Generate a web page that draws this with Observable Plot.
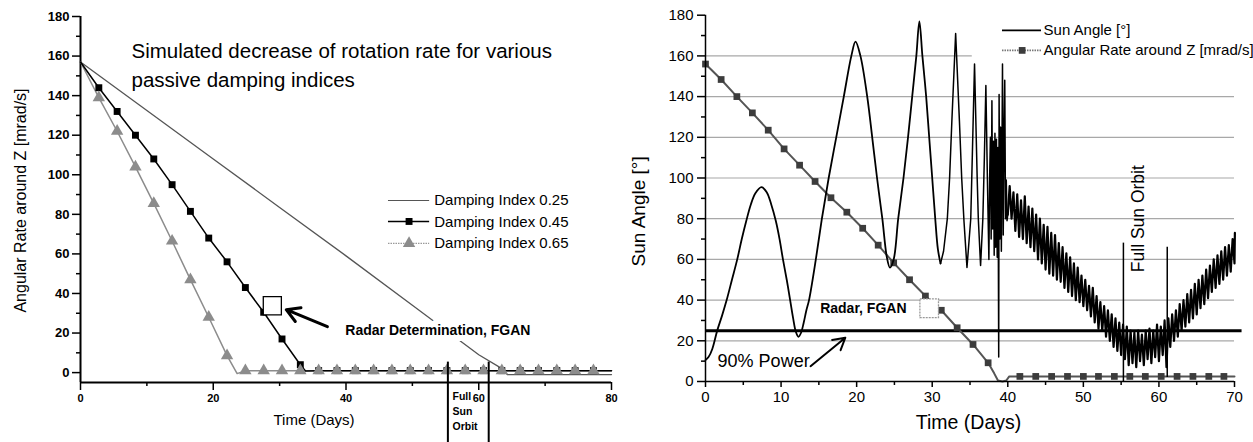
<!DOCTYPE html>
<html><head><meta charset="utf-8">
<script src="https://cdn.jsdelivr.net/npm/d3@7"></script>
<script src="https://cdn.jsdelivr.net/npm/@observablehq/plot@0.6"></script>
<style>
body{margin:0;background:#fff;}
#wrap{position:relative;width:1253px;height:442px;overflow:hidden;display:flex;background:#fff;}
#wrap svg{flex:none;max-width:none;overflow:visible;}
</style></head><body><div id="wrap"></div>
<script>
// ================= LEFT PANEL DATA =================
const leftTitle = "Simulated decrease of rotation rate for various\npassive damping indices";
const leftYLabel = "Angular Rate around Z [mrad/s]";
const leftXLabel = "Time (Days)";
const leftYTicks = [0, 20, 40, 60, 80, 100, 120, 140, 160, 180];
const leftYMinor = [10, 30, 50, 70, 90, 110, 130, 150, 170];
const leftXTicks = [0, 20, 40, 60, 80];
const leftXMinor = [10, 30, 50, 70];
const dampLabels = ["Damping Index 0.25", "Damping Index 0.45", "Damping Index 0.65"];

const damp025Days = [0, 10, 20, 30, 40, 50, 55, 60, 63.5, 64.3, 80];
const damp025Rate = [157, 132.5, 108, 83.5, 59, 34, 21.5, 9, 2, -1, -1];

const damp045Days = [0, 2.76, 5.52, 8.28, 11.04, 13.8, 16.56, 19.32, 22.08, 24.84, 27.6, 30.36, 33.12, 33.9,
  35.88, 38.64, 41.4, 44.16, 46.92, 49.68, 52.44, 55.2, 57.96, 60.72, 63.48, 66.24, 69.0, 71.76, 74.52, 77.28, 80];
const damp045Rate = [157, 144, 132, 120, 108, 95, 81.5, 68, 56, 43, 30.5, 17, 4, 0.8,
  1, 1, 1, 1, 1, 1, 1, 1, 1, 1, 1, 1, 1, 1, 1, 1, 1];
const damp045Unmarked = [0, 33.9, 80];

const damp065Days = [0, 2.76, 5.52, 8.28, 11.04, 13.8, 16.56, 19.32, 22.08, 23.6, 24.84, 27.6, 30.36, 33.12,
  35.88, 38.64, 41.4, 44.16, 46.92, 49.68, 52.44, 55.2, 57.96, 60.72, 63.48, 66.24, 69.0, 71.76, 74.52, 77.28, 80];
const damp065Rate = [157, 139, 122, 104, 85.5, 66.5, 47, 28, 8.6, -0.5, 1, 1, 1, 1,
  1, 1, 1, 1, 1, 1, 1, 1, 1, 1, 1, 1, 1, 1, 1, 1, 1];
const damp065Unmarked = [0, 23.6, 80];

const fullSunLeftDays = [55.35, 61.5];
const radarLeftText = "Radar Determination, FGAN";
const fullSunLeftText = "Full\nSun\nOrbit";

// ================= RIGHT PANEL DATA =================
const rightYLabel = "Sun Angle [°]";
const rightXLabel = "Time (Days)";
const rightYTicks = [0, 20, 40, 60, 80, 100, 120, 140, 160, 180];
const rightYMinor = [10, 30, 50, 70, 90, 110, 130, 150, 170];
const rightXTicks = [0, 10, 20, 30, 40, 50, 60, 70];
const rightXMinor = [5, 15, 25, 35, 45, 55, 65];
const rightGrid = [20, 40, 60, 80, 100, 120, 140, 160];
const seriesLabels = ["Sun Angle [°]", "Angular Rate around Z [mrad/s]"];
const powerLimit = [25];
const fullSunRightDays = [55.3, 61.1];

// Sun angle [day, degrees]
const sunSmooth = [[0,10.5],[0.4,12],[0.9,16],[1.55,25],[2.2,32.5],[2.8,40],[3.5,50],[4.2,60],[4.8,70],[5.4,79],
  [6.0,87],[6.6,92.5],[7.4,95.5],[8.1,93],[8.7,87],[9.3,79],[9.8,70],[10.25,60],[10.75,50],[11.2,40],[11.6,31],
  [11.95,24.5],[12.3,22],[12.65,24],[13.0,29],[13.35,35],[13.7,40],[14.6,60],[15.4,80],[16.3,100],[17.3,120],
  [18.3,140],[19.3,160],[19.85,167],[20.5,160],[21.4,140],[22.06,120],[22.7,100],[23.4,80],[24.0,61],[24.4,56],
  [24.9,60],[25.5,80],[26.2,100],[26.8,120],[27.35,140],[27.9,160],[28.3,177],[28.7,160],[29.2,140],[29.6,120],
  [30.0,100],[30.4,80],[30.75,65],[31.1,58]];
const sunFast = [[31.1,58],[31.5,64],[32.0,80],[32.3,100],[32.6,128],[33.1,171],[33.6,128],[33.9,100],[34.2,79],
  [34.6,56],[35.1,80],[35.3,110],[35.6,156],[35.95,100],[36.1,80],[36.4,57],[36.7,80],[36.9,110],[37.1,145.5],
  [37.3,100],[37.5,60],[37.6,100],[37.7,120],[37.8,70],[37.9,138],[38.0,75],[38.1,118],[38.2,62],[38.3,122],
  [38.4,66],[38.5,119],[38.6,61],[38.7,115],[38.8,12],[38.85,141],[38.95,70],[39.05,125],[39.15,64],[39.3,156],
  [39.4,72],[39.5,120],[39.6,148],[39.7,80],[39.8,99],[39.9,79],[40,82]];
const sunNoisy = [[40,82],[40.25,96],[40.5,80],[40.75,93],[41,74],[41.25,92],[41.5,71],[41.75,89],[42,70],[42.25,91],
  [42.5,68],[42.75,86],[43,66],[43.25,85],[43.5,64],[43.75,82],[44,60],[44.25,80],[44.5,58],[44.75,77],[45,55],
  [45.25,76],[45.5,53],[45.75,73],[46,52],[46.25,72],[46.5,50],[46.75,68],[47,49],[47.25,66],[47.5,46],[47.75,63],
  [48,44],[48.25,61],[48.5,42],[48.75,58],[49,40],[49.25,56],[49.5,39],[49.75,52],[50,37],[50.25,50],[50.5,35],
  [50.75,47],[51,32],[51.25,46],[51.5,29],[51.75,42],[52,26],[52.25,39],[52.5,25],[52.75,37],[53,22],[53.25,35],
  [53.5,20],[53.75,33],[54,17],[54.25,31],[54.5,15],[54.75,29],[55,13],[55.25,28],[55.5,11],[55.75,27],[56,8],
  [56.25,25],[56.5,9],[56.75,24],[57,7],[57.25,25],[57.5,10],[57.75,23],[58,8],[58.25,25],[58.5,11],[58.75,26],
  [59,9],[59.25,25],[59.5,12],[59.75,28],[60,10],[60.25,27],[60.5,13],[60.75,30],[61,7],[61.25,31],[61.5,17],
  [61.75,33],[62,20],[62.25,35],[62.5,22],[62.75,38],[63,25],[63.25,40],[63.5,27],[63.75,43],[64,29],[64.25,45],
  [64.5,31],[64.75,48],[65,33],[65.25,50],[65.5,36],[65.75,52],[66,38],[66.25,55],[66.5,41],[66.75,57],[67,44],
  [67.25,60],[67.5,46],[67.75,62],[68,48],[68.25,64],[68.5,50],[68.75,66],[69,52],[69.25,67],[69.5,54],[69.75,70],
  [70,58],[70.05,73]];

// Angular rate around Z (right panel)
const rateDays = [0, 2.07, 4.15, 6.2, 8.3, 10.4, 12.45, 14.5, 16.6, 18.7, 20.8, 22.85, 24.9, 27.0, 29.1, 31.2, 33.3,
  35.4, 37.4, 38.2, 38.7, 39.3, 39.8, 40.2, 41.6, 43.7, 45.8, 47.9, 50.0, 52.0, 54.1, 56.15, 58.2, 60.3, 62.4,
  64.5, 66.6, 68.6, 70];
const rateValues = [156, 148.4, 140, 132, 123.5, 114.3, 106.3, 98.3, 90.3, 83.2, 75.3, 67, 58.3, 50, 42, 35, 26.4,
  18.2, 9.2, 4, 0.5, 0, 0.5, 2.5, 2.5, 2.5, 2.5, 2.5, 2.5, 2.5, 2.5, 2.5, 2.5, 2.5, 2.5, 2.5, 2.5, 2.5, 2.5];
const rateUnmarked = [38.2, 38.7, 39.3, 39.8, 40.2, 70];

// ================= BUILD =================
const FONT = "'Liberation Sans', Arial, Helvetica, sans-serif";
const toRows = (days, vals) => days.map((d, i) => ({day: d, value: vals[i]}));
const pairRows = (pairs) => pairs.map(([d, v]) => ({day: d, value: v}));

const d025 = toRows(damp025Days, damp025Rate);
const d045 = toRows(damp045Days, damp045Rate);
const d065 = toRows(damp065Days, damp065Rate);
const m045 = d045.filter(r => !damp045Unmarked.includes(r.day));
const m065 = d065.filter(r => !damp065Unmarked.includes(r.day));

const left = Plot.plot({
  width: 625, height: 442,
  marginLeft: 80, marginRight: 14, marginTop: 16, marginBottom: 60,
  x: {domain: [0, 80]},
  y: {domain: [-5, 180]},
  style: {fontFamily: FONT, color: "#000", background: "#fff", overflow: "visible"},
  marks: [
    // axes
    Plot.axisY(leftYTicks, {tickSize: 8, tickPadding: 3, fontSize: 13, fontWeight: "bold", strokeWidth: 1.5, label: null}),
    Plot.axisY(leftYMinor, {tickSize: 4, tickFormat: () => "", strokeWidth: 1.5, label: null}),
    Plot.axisX(leftXTicks, {tickSize: 8, tickPadding: 4, fontSize: 11, fontWeight: "bold", strokeWidth: 1.5, label: null}),
    Plot.axisX(leftXMinor, {tickSize: 4, tickFormat: () => "", strokeWidth: 1.5, label: null}),
    Plot.ruleX([0], {y1: -5, y2: 180, strokeWidth: 2}),
    Plot.ruleY([-5], {x1: 0, x2: 80, strokeWidth: 2}),
    // series
    Plot.line(d025, {x: "day", y: "value", stroke: "#555", strokeWidth: 1.3}),
    Plot.line(d065, {x: "day", y: "value", stroke: "#8c8c8c", strokeWidth: 1.5}),
    Plot.line(d045, {x: "day", y: "value", stroke: "#000", strokeWidth: 1.5}),
    Plot.dot(m045, {x: "day", y: "value", symbol: "square", r: 3.9, fill: "#000"}),
    Plot.dot(m065, {x: "day", y: "value", symbol: "triangle", r: 4.6, fill: "#8c8c8c"}),
    // full sun orbit markers
    Plot.ruleX(fullSunLeftDays, {y1: 5.3, y2: -35.5, strokeWidth: 2}),
    Plot.text([fullSunLeftText], {x: 56.05, y: -8.5, textAnchor: "start", lineAnchor: "top", fontSize: 10.5, fontWeight: "bold", lineHeight: 1.43}),
    // radar annotation
    Plot.text([radarLeftText], {x: 39.9, y: 21.2, textAnchor: "start", fontSize: 14, fontWeight: "bold", fill: "#000", stroke: "#fff", strokeWidth: 12, paintOrder: "stroke"}),
    Plot.arrow([0], {x1: 37.2, y1: 23.2, x2: 31.0, y2: 31.8, strokeWidth: 3, headLength: 11, stroke: "#000"}),
    Plot.dot([0], {x: 28.9, y: 33.8, symbol: "square", r: 10.2, fill: "#fff", stroke: "#000", strokeWidth: 1.3}),
    // legend
    Plot.ruleY([87], {x1: 46.4, x2: 52.6, stroke: "#555", strokeWidth: 1.2}),
    Plot.ruleY([76.4], {x1: 46.4, x2: 52.6, stroke: "#000", strokeWidth: 1.5}),
    Plot.ruleY([65.3], {x1: 46.4, x2: 52.6, stroke: "#999", strokeWidth: 1.3, strokeDasharray: "1.5,1"}),
    Plot.dot([0], {x: 49.5, y: 76.4, symbol: "square", r: 3.9, fill: "#000"}),
    Plot.dot([0], {x: 49.5, y: 65.3, symbol: "triangle", r: 4.6, fill: "#8c8c8c"}),
    Plot.text(dampLabels, {x: 53.3, y: (d, i) => 87 - i * 10.85, textAnchor: "start", fontSize: 15}),
    // title and axis labels
    Plot.text([leftTitle], {frameAnchor: "top-left", dx: 51, dy: 21, textAnchor: "start", lineAnchor: "top", fontSize: 20.5, lineHeight: 1.415}),
    Plot.text([leftYLabel], {frameAnchor: "left", dx: -60, dy: 1, rotate: -90, textAnchor: "middle", lineAnchor: "middle", fontSize: 16}),
    Plot.text([leftXLabel], {frameAnchor: "bottom", dx: -32, dy: 38, textAnchor: "middle", lineAnchor: "middle", fontSize: 15})
  ]
});

const sunA = pairRows(sunSmooth);
const sunB = pairRows(sunFast);
const sunC = pairRows(sunNoisy);
const rateRows = toRows(rateDays, rateValues);
const rateMarks = rateRows.filter(r => !rateUnmarked.includes(r.day));

const right = Plot.plot({
  width: 628, height: 442,
  marginLeft: 80, marginRight: 19, marginTop: 14.7, marginBottom: 61,
  x: {domain: [0, 70]},
  y: {domain: [0, 180]},
  style: {fontFamily: FONT, color: "#000", background: "#fff", overflow: "visible"},
  marks: [
    Plot.ruleY(rightGrid, {x1: 0, x2: d => d === 160 ? 35.3 : 70, stroke: "#a8a8a8", strokeWidth: 1.2}),
    Plot.axisY(rightYTicks, {tickSize: 8, tickPadding: 4, fontSize: 15, strokeWidth: 1.5, label: null}),
    Plot.axisY(rightYMinor, {tickSize: 4, tickFormat: () => "", strokeWidth: 1.5, label: null}),
    Plot.axisX(rightXTicks, {tickSize: 6, tickPadding: 4, fontSize: 15, strokeWidth: 1.5, label: null}),
    Plot.axisX(rightXMinor, {tickSize: 4, tickFormat: () => "", strokeWidth: 1.5, label: null}),
    Plot.ruleY(powerLimit, {x1: 0, x2: 71, strokeWidth: 3, stroke: "#000"}),
    // angular rate
    Plot.line(rateRows, {x: "day", y: "value", stroke: "#555", strokeWidth: 2}),
    Plot.dot(rateMarks, {x: "day", y: "value", symbol: "square", r: 3.8, fill: "#3c3c3c"}),
    // sun angle
    Plot.line(sunA, {x: "day", y: "value", curve: "catmull-rom", stroke: "#000", strokeWidth: 1.8}),
    Plot.line(sunB, {x: "day", y: "value", stroke: "#000", strokeWidth: 1.5}),
    Plot.line(sunC, {x: "day", y: "value", stroke: "#000", strokeWidth: 2.2}),
    Plot.ruleX([0], {y1: 0, y2: 180, strokeWidth: 1.5}),
    Plot.ruleY([0], {x1: 0, x2: 70, strokeWidth: 1.5}),
    // full sun orbit
    Plot.ruleX(fullSunRightDays, {y1: (d, i) => i === 0 ? 0 : 2, y2: (d, i) => i === 0 ? 68 : 66, strokeWidth: 1.5}),
    Plot.text(["Full Sun Orbit"], {x: 57.3, y: 80, rotate: -90, textAnchor: "middle", fontSize: 17.5}),
    // radar
    Plot.dot([0], {x: 29.6, y: 36, symbol: "square", r: 10.5, fill: "#fff", stroke: "#999", strokeWidth: 1.3, strokeDasharray: "2,1"}),
    Plot.text(["Radar, FGAN"], {x: 26.6, y: 35.9, textAnchor: "end", fontSize: 14, fontWeight: "bold"}),
    // 90% power
    Plot.text(["90% Power"], {x: 1.6, y: 9.8, textAnchor: "start", fontSize: 18}),
    Plot.arrow([0], {x1: 13.9, y1: 7.5, x2: 18.5, y2: 21.5, strokeWidth: 2, headLength: 10, stroke: "#000"}),
    // legend
    Plot.ruleY([172.5], {x1: 39.3, x2: 44.46, stroke: "#000", strokeWidth: 1.8}),
    Plot.ruleY([162.7], {x1: 39.3, x2: 44.46, stroke: "#777", strokeWidth: 1.6, strokeDasharray: "1.5,1"}),
    Plot.dot([0], {x: 41.9, y: 162.7, symbol: "square", r: 3.8, fill: "#3c3c3c"}),
    Plot.text(seriesLabels, {x: 44.73, y: (d, i) => 172.5 - i * 9.8, textAnchor: "start", fontSize: 15}),
    // axis labels
    Plot.text([rightYLabel], {frameAnchor: "left", dx: -67, dy: 13, rotate: -90, textAnchor: "middle", lineAnchor: "middle", fontSize: 19}),
    Plot.text([rightXLabel], {frameAnchor: "bottom", dx: -1.5, dy: 41, textAnchor: "middle", lineAnchor: "middle", fontSize: 19.5})
  ]
});

document.getElementById("wrap").append(left, right);
</script></body></html>
